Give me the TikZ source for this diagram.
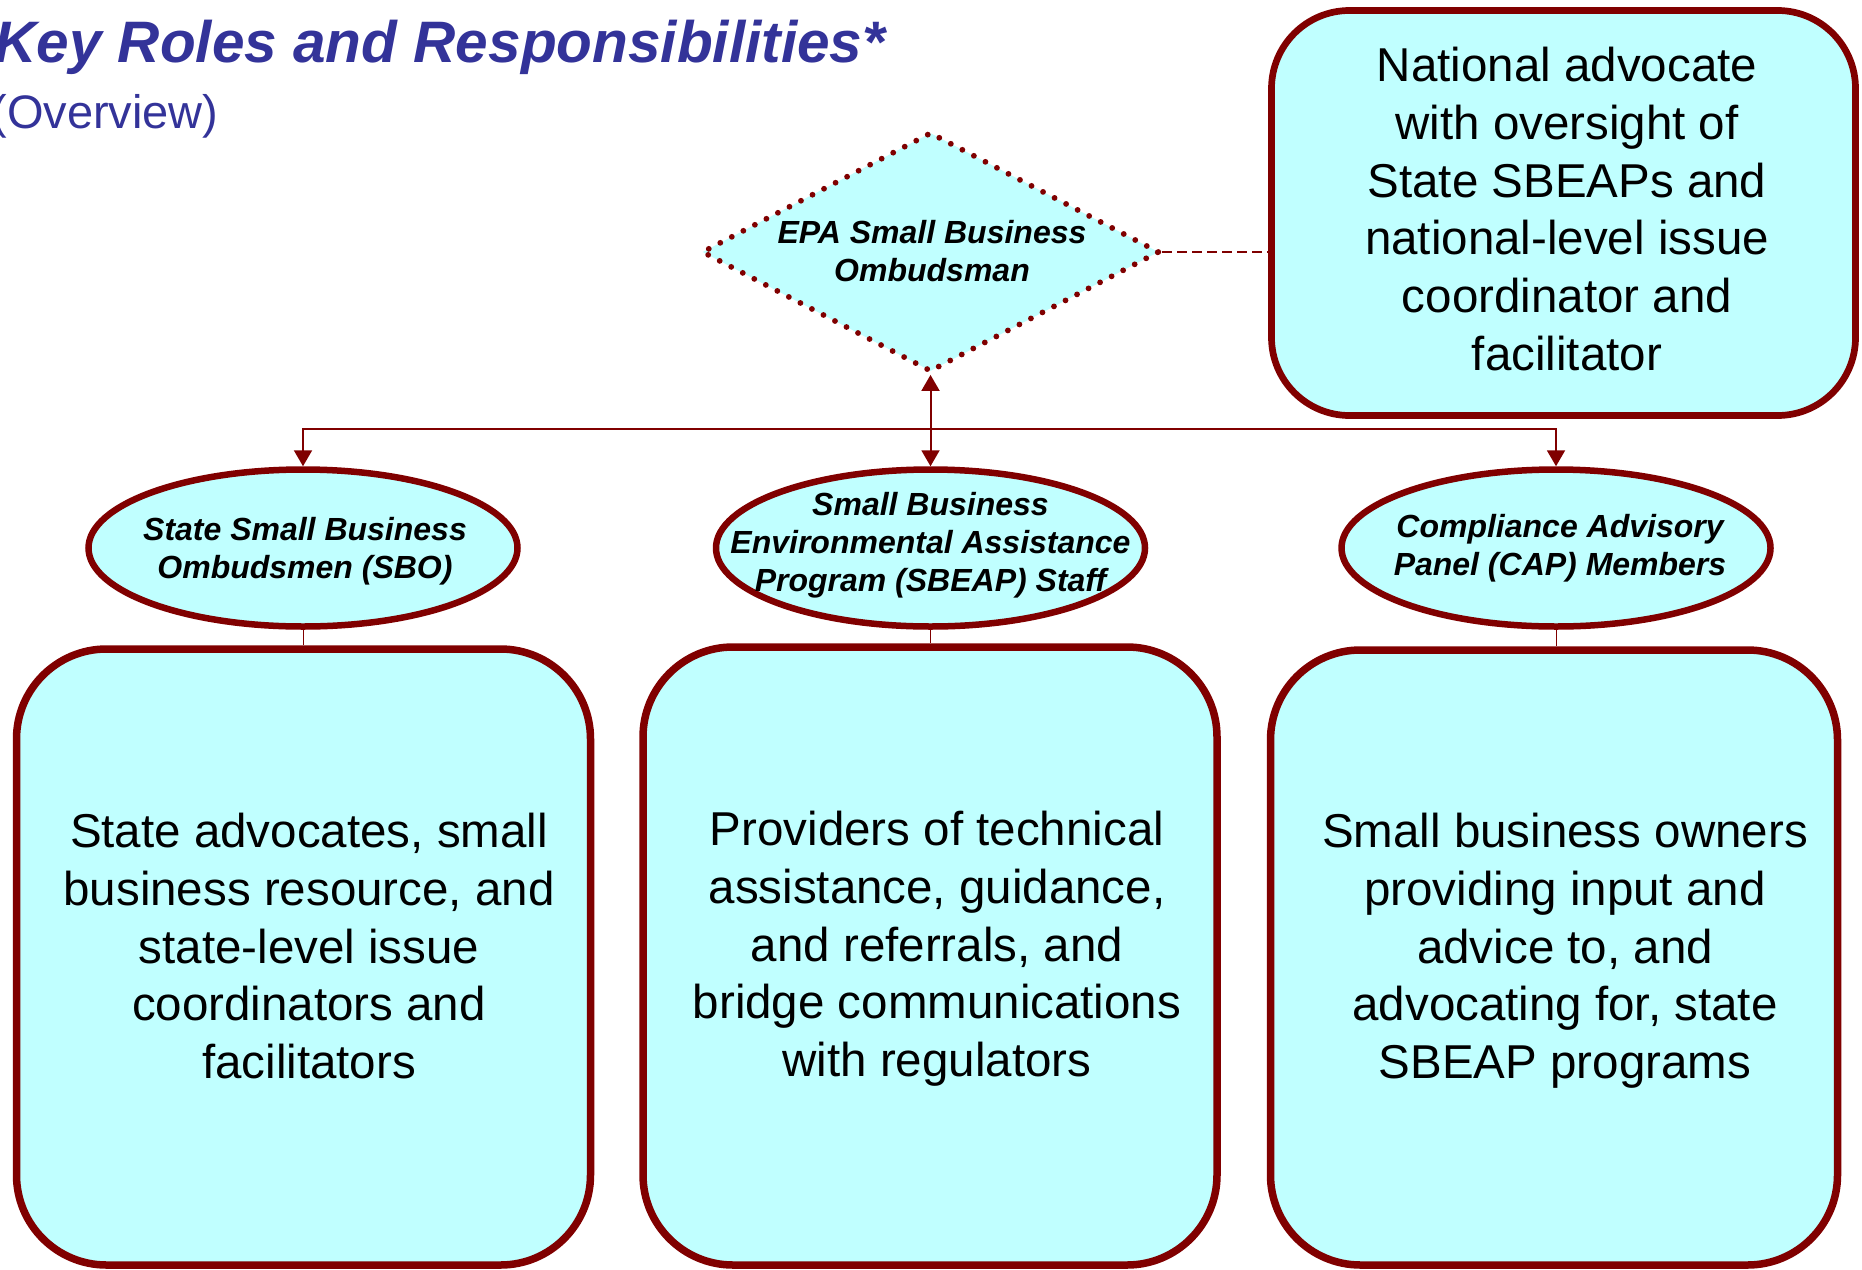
\documentclass[tikz,border=0pt]{standalone}
\usepackage{fontspec}
\setmainfont{Liberation Sans}
\usetikzlibrary{shapes.geometric,arrows.meta}
\definecolor{dred}{HTML}{800000}
\definecolor{lcyan}{HTML}{C0FFFF}
\definecolor{tblue}{HTML}{333399}
\begin{document}
\begin{tikzpicture}[x=0.5pt,y=-0.5pt,
  bigbox/.style={draw=dred, fill=lcyan, line width=3.75pt, rounded corners=45pt, inner sep=0pt},
  natbox/.style={draw=dred, fill=lcyan, line width=3.35pt, rounded corners=39pt, inner sep=0pt},
  role/.style={ellipse, draw=dred, fill=lcyan, line width=3.25pt, inner sep=0pt, minimum width=214.5pt, minimum height=78.5pt},
  epa/.style={diamond, draw=dred, fill=lcyan, line width=2.9pt, dash pattern=on 0pt off 6.5pt, line cap=round, inner sep=0pt, minimum width=229pt, minimum height=120pt},
  boxtext/.style={font=\fontsize{23.75pt}{28.85pt}\selectfont, align=center, inner sep=0pt},
  roletext/.style={font=\fontsize{16pt}{19pt}\selectfont\bfseries\itshape, align=center, inner sep=0pt},
  conn/.style={draw=dred, line width=1pt},
  tip/.style={-{Triangle[length=8pt,width=9pt]}},
  dtip/.style={{Triangle[length=8pt,width=9pt]}-{Triangle[length=8pt,width=9pt]}},
  stub/.style={draw=dred, line width=0.5pt},
  link/.style={draw=dred, line width=1pt, dash pattern=on 5pt off 2.5pt}]
\useasboundingbox (0,0) rectangle (1862,1269);

% title
\node[anchor=base west, inner sep=0pt, text=tblue, font=\fontsize{29.25pt}{34pt}\selectfont\bfseries\itshape] (title) at (-6,62) {Key Roles and Responsibilities*};
\node[anchor=base west, inner sep=0pt, text=tblue, font=\fontsize{23.5pt}{28pt}\selectfont] (sub) at (-9,128) {(Overview)};

% boxes
\node[bigbox, minimum width=287pt, minimum height=308pt] (b1) at (303.5,957) {};
\node[bigbox, minimum width=287pt, minimum height=309pt] (b2) at (930,956) {};
\node[bigbox, minimum width=283.5pt, minimum height=307.5pt] (b3) at (1554,957.5) {};
\node[natbox, minimum width=292pt, minimum height=202.5pt] (nat) at (1563.5,213) {};

% diamond and ellipses
\node[epa] (dia) at (930.5,252) {};
\node[role] (e1) at (303,548) {};
\node[role] (e2) at (930.5,548) {};
\node[role] (e3) at (1556,548) {};

% texts
\node[boxtext] (t1) at (309,951.5) {\strut State advocates, small\\ business resource, and\\ state-level issue\\ coordinators and\\ facilitators\strut};
\node[boxtext] (t2) at (937,949.5) {\strut Providers of technical\\ assistance, guidance,\\ and referrals, and\\ bridge communications\\ with regulators\strut};
\node[boxtext] (t3) at (1565,951.5) {\strut Small business owners\\ providing input and\\ advice to, and\\ advocating for, state\\ SBEAP programs\strut};
\node[boxtext] (t4) at (1567,214.5) {\strut National advocate\\ with oversight of\\ State SBEAPs and\\ national-level issue\\ coordinator and\\ facilitator\strut};

\node[roletext] (l1) at (305,551.4) {\strut State Small Business\\ Ombudsmen (SBO)\strut};
\node[roletext] (l2) at (930.5,545.9) {\strut Small Business\\ Environmental Assistance\\ Program (SBEAP) Staff\strut};
\node[roletext] (l3) at (1560,548.4) {\strut Compliance Advisory\\ Panel (CAP) Members\strut};
\node[roletext] (ld) at (932,254.4) {\strut EPA Small Business\\ Ombudsman\strut};

% connectors
\coordinate (bus) at (930.5,429);
\draw[conn, tip] (bus) -| (e1.north);
\draw[conn, tip] (bus) -| (e3.north);
\draw[conn, dtip] (dia.south) -- (e2.north);
\draw[link] (dia.east) -- (dia.east -| nat.west);
\draw[stub] (e1.south) -- (e1.south |- b1.north);
\draw[stub] (e2.south) -- (e2.south |- b2.north);
\draw[stub] (e3.south) -- (e3.south |- b3.north);
\end{tikzpicture}
\end{document}
